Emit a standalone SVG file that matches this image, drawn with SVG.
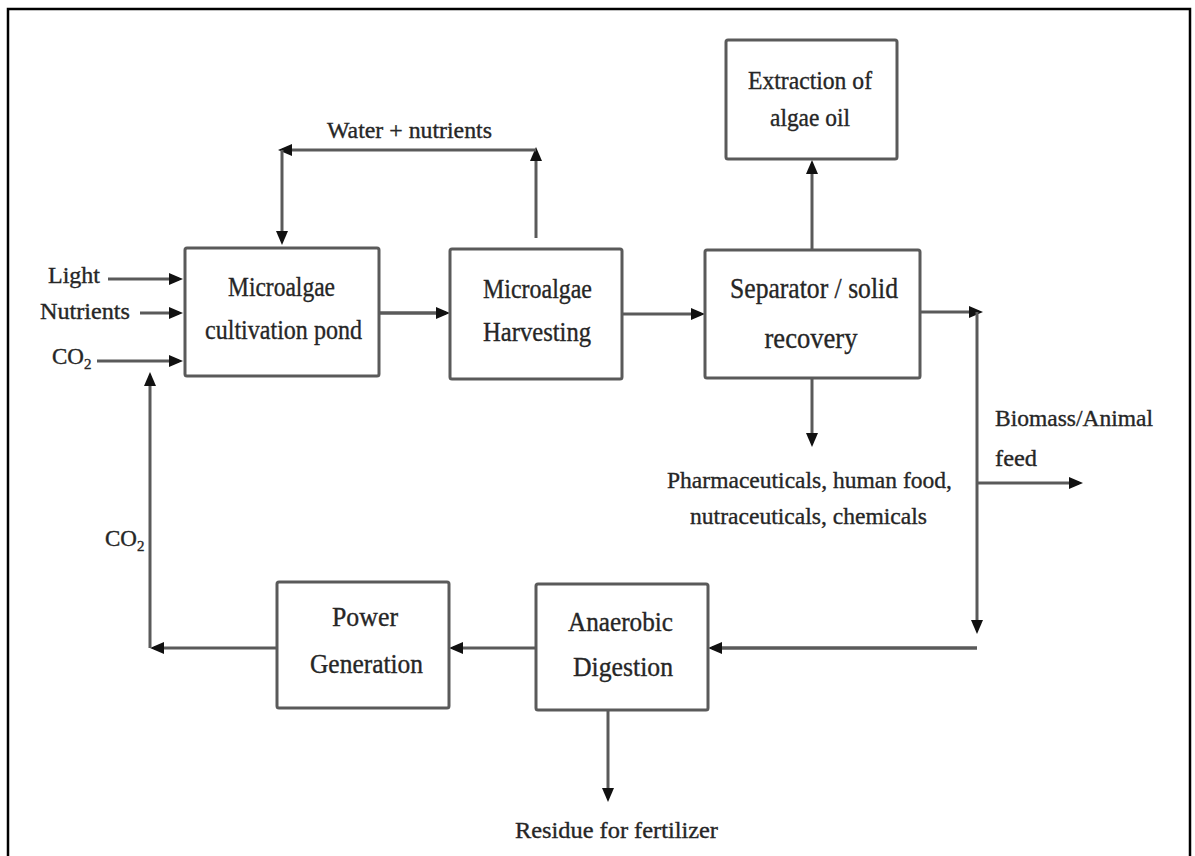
<svg xmlns="http://www.w3.org/2000/svg" width="1195" height="856" viewBox="0 0 1195 856">
<style>
.box{fill:#fff;stroke:#5a5a5a;stroke-width:3}
.ln{fill:none;stroke:#5a5a5a;stroke-width:3}
.arr{marker-end:url(#ah)}
text{font-family:"Liberation Serif","Times New Roman",serif;fill:#262626;stroke:#262626;stroke-width:0.35}
.t{font-size:27px;text-anchor:middle}
.s{font-size:23px}
</style>
<defs>
<marker id="ah" markerUnits="userSpaceOnUse" markerWidth="16" markerHeight="14" refX="10" refY="6" orient="auto">
<path d="M0,0 L14,6 L0,12 z" fill="#111"/>
</marker>
</defs>
<rect width="1195" height="856" fill="#fff"/>
<path d="M8,856 V9 H1190 V856" fill="none" stroke="#000" stroke-width="2.5"/>

<g id="connectors">
<path class="ln arr" d="M108,279 H179"/>
<path class="ln arr" d="M140,313 H179"/>
<path class="ln arr" d="M97,361 H179"/>
<path class="ln arr" d="M379,313 H446" style="stroke-width:3.5"/>
<path class="ln arr" d="M622,314 H701"/>
<path class="ln arr" d="M536,238 V151"/>
<path class="ln arr" d="M536,150 H282"/>
<path class="ln arr" d="M282,150 V241"/>
<path class="ln arr" d="M812,250 V164"/>
<path class="ln arr" d="M812,378 V443"/>
<path class="ln arr" d="M920,312 H979"/>
<path class="ln arr" d="M977,312 V630"/>
<path class="ln arr" d="M977,648 H712" style="stroke-width:3.5"/>
<path class="ln arr" d="M977,483 H1079"/>
<path class="ln arr" d="M536,648 H453"/>
<path class="ln arr" d="M277,648 H154"/>
<path class="ln arr" d="M150,648 V376"/>
<path class="ln arr" d="M608,710 V798"/>
</g>

<g id="inputs">
<text class="s" x="48" y="283" textLength="52" lengthAdjust="spacingAndGlyphs">Light</text>
<text class="s" x="40" y="319" textLength="90" lengthAdjust="spacingAndGlyphs">Nutrients</text>
<text class="s" x="52" y="364">CO<tspan font-size="15" dy="5">2</tspan></text>
</g>

<g id="co2-return">
<text class="s" x="105" y="546">CO<tspan font-size="15" dy="5">2</tspan></text>
</g>

<g id="water-label">
<text class="s" x="409.5" y="138" text-anchor="middle" textLength="165" lengthAdjust="spacingAndGlyphs">Water + nutrients</text>
</g>

<g id="pond">
<rect class="box" x="185" y="248" width="194" height="128" rx="2"/>
<text class="t" x="281.5" y="296" textLength="107" lengthAdjust="spacingAndGlyphs">Microalgae</text>
<text class="t" x="283.5" y="339" textLength="157" lengthAdjust="spacingAndGlyphs">cultivation pond</text>
</g>

<g id="harvesting">
<rect class="box" x="450" y="249" width="172" height="130" rx="2"/>
<text class="t" x="537.5" y="298" textLength="109" lengthAdjust="spacingAndGlyphs">Microalgae</text>
<text class="t" x="537" y="341" textLength="108" lengthAdjust="spacingAndGlyphs">Harvesting</text>
</g>

<g id="separator">
<rect class="box" x="705" y="250" width="215" height="128" rx="2"/>
<text class="t" x="814" y="298" textLength="168" lengthAdjust="spacingAndGlyphs" style="font-size:29px">Separator / solid</text>
<text class="t" x="811" y="348" textLength="93" lengthAdjust="spacingAndGlyphs" style="font-size:29px">recovery</text>
</g>

<g id="extraction">
<rect class="box" x="726" y="40" width="171" height="119" rx="2"/>
<text class="t" x="810" y="89" textLength="124" lengthAdjust="spacingAndGlyphs" style="font-size:25px">Extraction of</text>
<text class="t" x="810" y="126" textLength="80" lengthAdjust="spacingAndGlyphs" style="font-size:25px">algae oil</text>
</g>

<g id="products">
<text class="s" x="809.5" y="488" text-anchor="middle" textLength="285" lengthAdjust="spacingAndGlyphs" style="font-size:24px">Pharmaceuticals, human food,</text>
<text class="s" x="808.5" y="524" text-anchor="middle" textLength="237" lengthAdjust="spacingAndGlyphs" style="font-size:24px">nutraceuticals, chemicals</text>
</g>

<g id="biomass">
<text class="s" x="995" y="426" textLength="158" lengthAdjust="spacingAndGlyphs">Biomass/Animal</text>
<text class="s" x="995" y="466" textLength="42" lengthAdjust="spacingAndGlyphs">feed</text>
</g>

<g id="power">
<rect class="box" x="277" y="582" width="172" height="126" rx="2"/>
<text class="t" x="365" y="626" textLength="66" lengthAdjust="spacingAndGlyphs">Power</text>
<text class="t" x="366.5" y="673" textLength="113" lengthAdjust="spacingAndGlyphs">Generation</text>
</g>

<g id="anaerobic">
<rect class="box" x="536" y="584" width="172" height="126" rx="2"/>
<text class="t" x="620.5" y="631" textLength="105" lengthAdjust="spacingAndGlyphs">Anaerobic</text>
<text class="t" x="623" y="676" textLength="100" lengthAdjust="spacingAndGlyphs">Digestion</text>
</g>

<g id="residue">
<text class="s" x="616.5" y="838" text-anchor="middle" textLength="203" lengthAdjust="spacingAndGlyphs" style="font-size:24px">Residue for fertilizer</text>
</g>
</svg>
